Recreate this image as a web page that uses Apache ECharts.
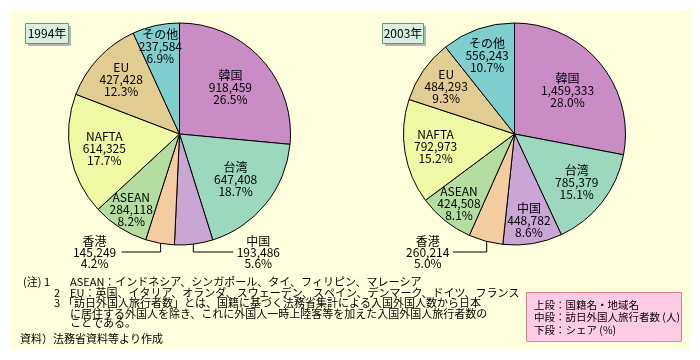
<!DOCTYPE html>
<html>
<head>
<meta charset="utf-8">
<script src="https://cdn.jsdelivr.net/npm/echarts@6/dist/echarts.min.js"></script>
<style>html,body{margin:0;padding:0;background:#fff}#c{width:700px;height:360px}</style>
</head>
<body>
<div id="c"></div>
<script>
// ---- data ----
const categories = ['韓国', '台湾', '中国', '香港', 'ASEAN', 'NAFTA', 'EU', 'その他'];
const visitors1994 = [918459, 647408, 193486, 145249, 284118, 614325, 427428, 237584];
const share1994 = [26.5, 18.7, 5.6, 4.2, 8.2, 17.7, 12.3, 6.9];
const visitors2003 = [1459333, 785379, 448782, 260214, 424508, 792973, 484293, 556243];
const share2003 = [28.0, 15.1, 8.6, 5.0, 8.1, 15.2, 9.3, 10.7];
const yearLabels = ['1994年', '2003年'];
const notes = [
  '(注) 1',
  'ASEAN：インドネシア、シンガポール、タイ、フィリピン、マレーシア',
  '2',
  'EU：英国、イタリア、オランダ、スウェーデン、スペイン、デンマーク、ドイツ、フランス',
  '3',
  '「訪日外国人旅行者数」とは、国籍に基づく法務省集計による入国外国人数から日本',
  'に居住する外国人を除き、これに外国人一時上陸客等を加えた入国外国人旅行者数の',
  'ことである。',
  '資料）法務省資料等より作成'
];
const legendLines = ['上段：国籍名・地域名', '中段：訪日外国人旅行者数 (人)', '下段：シェア (%)'];

// ---- style ----
const colors = ['#CA8CC4', '#9CD8BE', '#C9A6D3', '#F3CDA0', '#B3DEA0', '#EFF8A2', '#E1CC92', '#80CFCF'];
const FONT = '"Noto Sans CJK JP", sans-serif';
const R = 111;
const centers = [[179.5, 134], [514.5, 134]];
const labelRatio1994 = [0.62, 0.65, 0.6, 0.6, 0.81, 0.69, 0.72, 0.81];
const labelRatio2003 = [0.62, 0.71, 0.79, 0.6, 0.8, 0.72, 0.75, 0.75];
const callouts1994 = {2: {dir: 1, len: 40, off: 25}, 3: {dir: -1, len: 39, off: 27}};
const callouts2003 = {3: {dir: -1, len: 34, off: 25}};

function fmt(v) { return v.toString().replace(/\B(?=(\d{3})+(?!\d))/g, ','); }

function makeLayout(values, center, ratios, callouts) {
  const total = values.reduce((a, b) => a + b, 0);
  const mids = [];
  let acc = 0;
  values.forEach(v => { mids.push((acc + v / 2) / total * Math.PI * 2); acc += v; });
  return function (params) {
    const i = params.dataIndex;
    const a = mids[i];
    const sx = Math.sin(a), cy = -Math.cos(a);
    const c = callouts[i];
    if (c) {
      const p0 = [center[0] + (R - 4) * sx, center[1] + (R - 4) * cy];
      const ly = center[1] + 118;
      const p1 = [p0[0], ly];
      const p2 = [p0[0] + c.dir * c.len, ly];
      return {
        x: p2[0] + c.dir * c.off, y: ly, align: 'center', verticalAlign: 'middle',
        labelLinePoints: [p0, p1, p2]
      };
    }
    const k = ratios[i] * R;
    return { x: center[0] + k * sx, y: center[1] + k * cy, align: 'center', verticalAlign: 'middle' };
  };
}

function buildData(values, shares, callouts) {
  return categories.map((name, i) => {
    const item = {
      name: name, value: values[i], share: shares[i],
      itemStyle: { color: colors[i] }
    };
    if (callouts[i]) {
      item.label = { position: 'outside', lineHeight: 11 };
      item.labelLine = { show: true, lineStyle: { color: '#000', width: 1 } };
    }
    return item;
  });
}

function pieSeries(values, shares, center, ratios, callouts) {
  return {
    type: 'pie',
    center: center,
    radius: [0, R],
    startAngle: 90,
    clockwise: true,
    avoidLabelOverlap: false,
    silent: true,
    animation: false,
    itemStyle: { borderColor: '#000', borderWidth: 1 },
    label: {
      show: true, position: 'inside', color: '#000',
      fontFamily: FONT, fontSize: 12, lineHeight: 12,
      formatter: p => p.name + '\n' + fmt(p.value) + '\n' + p.data.share.toFixed(1) + '%'
    },
    labelLine: { show: false },
    emphasis: { disabled: true },
    labelLayout: makeLayout(values, center, ratios, callouts),
    data: buildData(values, shares, callouts)
  };
}

// ---- graphics ----
const graphics = [
  { type: 'rect', shape: { x: 10, y: 10, width: 680, height: 339 }, style: { fill: '#FFFFDD' }, z: -10 }
];
const yearBoxes = [[25, 23, 43], [382, 23, 41]];
yearBoxes.forEach((b, i) => {
  graphics.push({ type: 'rect', shape: { x: b[0] + 3, y: b[1] + 3, width: b[2], height: 20 }, style: { fill: '#B4B4B4' } });
  graphics.push({ type: 'rect', shape: { x: b[0] + 0.5, y: b[1] + 0.5, width: b[2], height: 20 }, style: { fill: '#D8F0E0', stroke: '#4FA862', lineWidth: 1 } });
  graphics.push({ type: 'text', x: b[0] + 0.5 + b[2] / 2, y: b[1] + 10.5, style: { text: yearLabels[i], fill: '#000', font: '12px ' + FONT, align: 'center', verticalAlign: 'middle' } });
});
const notePos = [[23, 282], [70, 282], [54, 292.7], [70, 292.7], [54, 303.3], [63, 303.3], [70, 314.3], [70, 323], [20, 338.7]];
notes.forEach((t, i) => {
  graphics.push({ type: 'text', x: notePos[i][0], y: notePos[i][1], style: { text: t, fill: '#000', font: '11px ' + FONT, align: 'left', verticalAlign: 'middle' } });
});
graphics.push({ type: 'rect', shape: { x: 526.5, y: 292.5, width: 155, height: 49 }, style: { fill: '#FFCCE5', stroke: '#E8808E', lineWidth: 1 } });
legendLines.forEach((t, i) => {
  graphics.push({ type: 'text', x: 534, y: 305 + i * 12.5, style: { text: t, fill: '#000', font: '10.5px ' + FONT, align: 'left', verticalAlign: 'middle' } });
});

const chart = echarts.init(document.getElementById('c'), null, { renderer: 'canvas' });
chart.setOption({
  backgroundColor: '#FFFFFF',
  animation: false,
  graphic: graphics,
  series: [
    pieSeries(visitors1994, share1994, centers[0], labelRatio1994, callouts1994),
    pieSeries(visitors2003, share2003, centers[1], labelRatio2003, callouts2003)
  ]
});
</script>
</body>
</html>
